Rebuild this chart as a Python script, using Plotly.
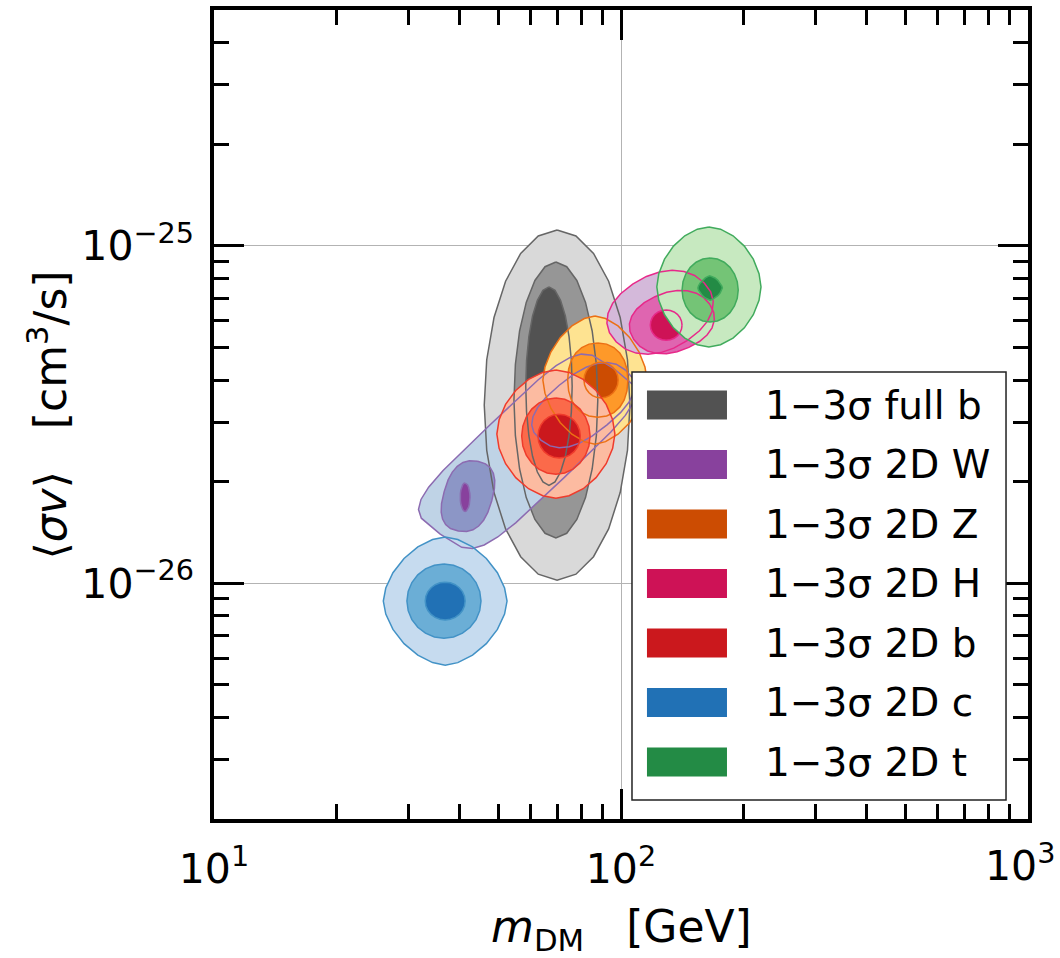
import numpy as np
import plotly.graph_objects as go

# ---------------------------------------------------------------------------
# Channels shown in the legend and their colour ramps (3σ, 2σ, 1σ, edge)
# ---------------------------------------------------------------------------
channel_labels = ["1−3σ full b", "1−3σ 2D W", "1−3σ 2D Z", "1−3σ 2D H",
                  "1−3σ 2D b", "1−3σ 2D c", "1−3σ 2D t"]
fill_3sigma = ["#d9d9d9", "#bfd3e6", "#fee391", "#d4b9da", "#fcbba1", "#c6dbef", "#c7e9c0"]
fill_2sigma = ["#969696", "#8c96c6", "#fe9929", "#df65b0", "#fb6a4a", "#6baed6", "#74c476"]
fill_1sigma = ["#525252", "#88419d", "#cc4c02", "#ce1256", "#cb181d", "#2171b5", "#238b45"]
edge_colors = ["#666666", "#8c6bb1", "#ec7014", "#e7298a", "#ef3b2c", "#4292c6", "#41ab5d"]

# ---------------------------------------------------------------------------
# Credible regions in (log10 m_DM [GeV], log10 <σv> [cm^3/s]).
# Each region: channel, sigma level, centre, half-axes (dex), tilt (deg in the
# log-log plane) and squareness exponent of the superellipse outline.
# ---------------------------------------------------------------------------
region_channel = [0, 0, 0,   1, 1, 1, 1,   2, 2, 2,   3, 3, 3,   4, 4, 4,   5, 5, 5,   6, 6, 6]
region_sigma   = [3, 2, 1,   3, 2, 2, 1,   3, 2, 1,   3, 2, 1,   3, 2, 1,   3, 2, 1,   3, 2, 1]
region_log_m   = [1.843, 1.840, 1.823,
                  1.769, 1.624, 1.907, 1.617,
                  1.936, 1.943, 1.951,
                  2.096, 2.125, 2.111,
                  1.840, 1.840, 1.848,
                  1.568, 1.565, 1.568,
                  2.216, 2.219, 2.219]
region_log_sv  = [-25.472, -25.457, -25.416,
                  -25.609, -25.742, -25.472, -25.745,
                  -25.398, -25.398, -25.398,
                  -25.197, -25.226, -25.235,
                  -25.558, -25.564, -25.564,
                  -26.053, -26.053, -26.053,
                  -25.122, -25.131, -25.125]
region_major   = [0.519, 0.409, 0.294,
                  0.325, 0.106, 0.147, 0.042,
                  0.190, 0.110, 0.053,
                  0.139, 0.107, 0.039,
                  0.190, 0.113, 0.065,
                  0.190, 0.110, 0.056,
                  0.178, 0.095, 0.036]
region_minor   = [0.179, 0.103, 0.057,
                  0.120, 0.060, 0.083, 0.012,
                  0.128, 0.074, 0.042,
                  0.107, 0.086, 0.045,
                  0.145, 0.084, 0.052,
                  0.152, 0.091, 0.049,
                  0.128, 0.069, 0.030]
region_tilt    = [90, 90, 90,
                  49, 77, 45, 90,
                  90, 90, 90,
                  39, 29, 0,
                  90, 90, 90,
                  90, 90, 90,
                  90, 90, 90]
region_shape   = [2.0, 2.0, 2.0,
                  4.5, 2.5, 2.5, 2.0,
                  1.7, 2.2, 2.0,
                  2.2, 2.2, 2.0,
                  1.8, 2.0, 2.0,
                  1.7, 2.0, 2.0,
                  1.8, 2.0, 1.5]

# Axis ticks (the 10^3 label at the right edge is placed as an annotation
# so it is not clipped by the page border)
x_major = [10, 100, 1000]
x_major_text = ["10<sup>1</sup>", "10<sup>2</sup>", ""]
x_edge_label = "10<sup>3</sup>"
y_major = [1e-26, 1e-25]
y_major_text = ["10<sup>−26</sup>", "10<sup>−25</sup>"]
x_range = [1.0, 3.0]
y_range = [np.log10(2e-27), np.log10(5e-25)]


def region_outline(i, n_pts=25):
    """Superellipse outline of region i, returned in linear data units."""
    t = np.linspace(0.0, 2.0 * np.pi, n_pts)
    p = 2.0 / region_shape[i]
    u = np.sign(np.cos(t)) * np.abs(np.cos(t)) ** p
    v = np.sign(np.sin(t)) * np.abs(np.sin(t)) ** p
    th = np.deg2rad(region_tilt[i])
    a, b = region_major[i], region_minor[i]
    lx = region_log_m[i] + a * u * np.cos(th) - b * v * np.sin(th)
    ly = region_log_sv[i] + a * u * np.sin(th) + b * v * np.cos(th)
    return 10 ** lx, 10 ** ly


def fill_for(i):
    ch = region_channel[i]
    return {3: fill_3sigma, 2: fill_2sigma, 1: fill_1sigma}[region_sigma[i]][ch]


fig = go.Figure()

# filled confidence regions, channel by channel (outer level first)
for i in range(len(region_channel)):
    x, y = region_outline(i)
    fig.add_trace(go.Scatter(x=x, y=y, mode="lines", fill="toself",
                             fillcolor=fill_for(i), line=dict(width=0),
                             hoverinfo="skip", showlegend=False))

# contour edges drawn over all fills
for i in range(len(region_channel)):
    x, y = region_outline(i)
    fig.add_trace(go.Scatter(x=x, y=y, mode="lines",
                             line=dict(color=edge_colors[region_channel[i]], width=1.5),
                             hoverinfo="skip", showlegend=False))

FONT = "DejaVu Sans"

x_minor = [k * 10.0 ** e for e in (1, 2) for k in range(2, 10)]
y_minor = [k * 10.0 ** e for e in (-27, -26, -25) for k in range(2, 10)
           if 2e-27 <= k * 10.0 ** e <= 5e-25]

axis_common = dict(
    type="log", showline=True, linewidth=3.5, linecolor="black", mirror="allticks",
    ticks="inside", ticklen=30, tickwidth=3, tickcolor="black",
    tickmode="array", showgrid=True, gridcolor="#b3b3b3", gridwidth=1,
    zeroline=False, tickfont=dict(family=FONT, size=41, color="black"),
    automargin=False,
)

fig.update_layout(
    width=1060, height=958,
    margin=dict(l=214, r=32, t=10, b=139),
    paper_bgcolor="white", plot_bgcolor="white",
    xaxis=dict(axis_common, range=x_range, tickvals=x_major, ticktext=x_major_text,
               ticklabelstandoff=11,
               minor=dict(ticks="inside", ticklen=15, tickwidth=2.5, tickcolor="black",
                          tickmode="array", tickvals=x_minor, showgrid=False)),
    yaxis=dict(axis_common, range=y_range, tickvals=y_major, ticktext=y_major_text,
               ticklabelstandoff=8,
               minor=dict(ticks="inside", ticklen=15, tickwidth=2.5, tickcolor="black",
                          tickmode="array", tickvals=y_minor, showgrid=False)),
    showlegend=False,
)

fig.add_annotation(text=x_edge_label, xref="paper", yref="paper", x=1.0, y=0.0,
                   xanchor="center", yanchor="top", xshift=-8, yshift=-15, showarrow=False,
                   font=dict(family=FONT, size=41, color="black"))

# axis titles
fig.add_annotation(text="<i>m</i><sub>DM</sub>\u00a0\u00a0\u00a0[GeV]", xref="paper", yref="paper",
                   x=0.5, y=-0.137, xanchor="center", yanchor="middle", showarrow=False,
                   font=dict(family=FONT, size=44, color="black"))
fig.add_annotation(text="⟨<i>σv</i>⟩\u00a0\u00a0\u00a0[cm<sup>3</sup>/s]", xref="paper", yref="paper",
                   x=-0.205, y=0.499, xanchor="center", yanchor="middle", textangle=-90,
                   showarrow=False, font=dict(family=FONT, size=44, color="black"))

# legend box with colour patches
leg_x0, leg_x1, leg_y0, leg_y1 = 0.5135, 0.973, 0.0235, 0.5525
row_top, row_step, patch_half = 0.5117, 0.07355, 0.0179
patch_x0, patch_x1, text_x = 0.5319, 0.6302, 0.6744
fig.add_shape(type="rect", xref="paper", yref="paper", x0=leg_x0, x1=leg_x1, y0=leg_y0, y1=leg_y1,
              fillcolor="white", line=dict(color="#222222", width=1.5), layer="above")
for k, label in enumerate(channel_labels):
    yc = row_top - k * row_step
    fig.add_shape(type="rect", xref="paper", yref="paper", x0=patch_x0, x1=patch_x1,
                  y0=yc - patch_half, y1=yc + patch_half, fillcolor=fill_1sigma[k],
                  line=dict(width=0), layer="above")
    fig.add_annotation(text=label, xref="paper", yref="paper", x=text_x, y=yc,
                       xanchor="left", yanchor="middle", showarrow=False,
                       font=dict(family=FONT, size=39, color="black"))

fig.write_html("out.html")
